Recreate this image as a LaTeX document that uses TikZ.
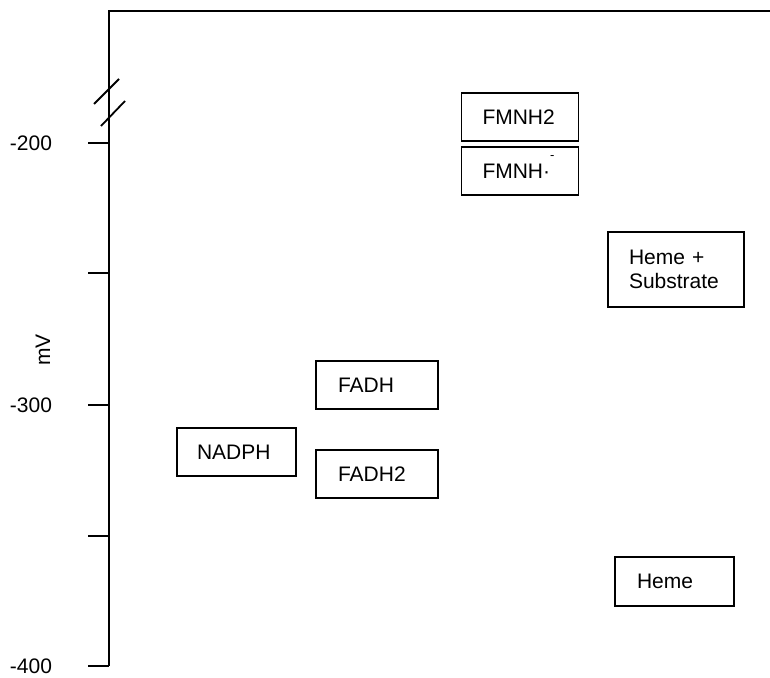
\documentclass[tikz,border=0pt]{standalone}
\usepackage{fontspec}
\setmainfont{Liberation Sans}
\begin{document}
\begin{tikzpicture}[x=1pt,y=-1pt,
  axisline/.style={line width=1.8pt},
  lvl/.style={draw, line width=1.7pt, align=left, font=\fontsize{21}{24}\selectfont, inner ysep=0pt},
  ticklab/.style={font=\fontsize{21}{24}\selectfont}]
\useasboundingbox (0,0) rectangle (770,677);
% axis frame
\coordinate (top) at (109,11);
\coordinate (bot) at (109,666);
\coordinate (topr) at (770,11);
\draw[axisline] (topr) -- (top) -- (bot);
% axis break marks
\coordinate (b1a) at (94,104); \coordinate (b1b) at (119,79);
\coordinate (b2a) at (101,126); \coordinate (b2b) at (125,101);
\draw[axisline] (b1a) -- (b1b);
\draw[axisline] (b2a) -- (b2b);
% ticks
\foreach \y/\n in {143/t1,273/t2,405/t3,536/t4,666/t5}{
  \coordinate (\n a) at (88,\y); \coordinate (\n b) at (109,\y);
  \draw[axisline] (\n a) -- (\n b);
}
\node[ticklab] (l200) at (31,143) {-200};
\node[ticklab] (l300) at (31,405) {-300};
\node[ticklab] (l400) at (31,666) {-400};
\node[ticklab, rotate=90] (mv) at (43,350) {mV};
% redox levels
\node[lvl, minimum width=117pt, minimum height=48pt, text width=75pt, inner xsep=21pt] (fmnh2) at (520,117) {FMNH2};
\node[lvl, minimum width=117pt, minimum height=48pt, text width=75pt, inner xsep=21pt] (fmnhs) at (520,171) {FMNH·\raisebox{19pt}[0pt][0pt]{\fontsize{13}{13}\selectfont -}};
\node[lvl, minimum width=136pt, minimum height=75pt, text width=94pt, inner xsep=21pt] (hsub) at (676,269.5) {Heme +\\Substrate};
\node[lvl, minimum width=122pt, minimum height=48pt, text width=78pt, inner xsep=22pt] (fadh) at (377,385) {FADH};
\node[lvl, minimum width=119pt, minimum height=48pt, text width=79pt, inner xsep=20pt] (nadph) at (236.5,452) {NADPH};
\node[lvl, minimum width=122pt, minimum height=48pt, text width=78pt, inner xsep=22pt] (fadh2) at (377,474) {FADH2};
\node[lvl, minimum width=119pt, minimum height=49pt, text width=75pt, inner xsep=22pt] (heme) at (674.5,581.5) {Heme};
\end{tikzpicture}
\end{document}
